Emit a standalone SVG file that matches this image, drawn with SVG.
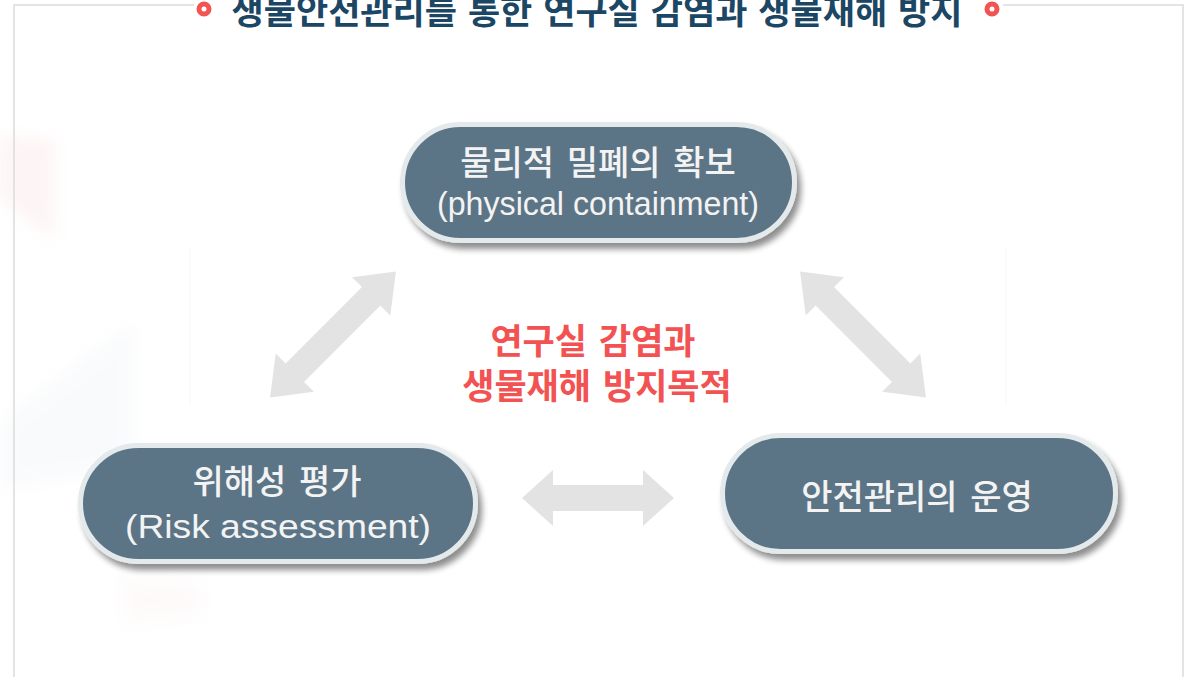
<svg xmlns="http://www.w3.org/2000/svg" width="1184" height="677" viewBox="0 0 1184 677">
  <style>
    .frame { fill: none; stroke: #dcdcdc; stroke-width: 1.5; }
    .ring { fill: #ffffff; stroke: #f25454; stroke-width: 5; }
    .title { font-family: "Noto Sans CJK KR", sans-serif; font-weight: 700; font-size: 35px; fill: #1b4664; text-anchor: middle; word-spacing: 3px; }
    .pill { fill: #5b7586; stroke: #e4e9ec; stroke-width: 5; }
    .ko { font-family: "Noto Sans CJK KR", sans-serif; font-weight: 500; font-size: 34px; fill: #f3f3f3; text-anchor: middle; word-spacing: 5px; }
    .en { font-family: "Liberation Sans", "Noto Sans CJK KR", sans-serif; font-size: 34px; fill: #f3f3f3; text-anchor: middle; }
    .center { font-family: "Noto Sans CJK KR", sans-serif; font-weight: 700; font-size: 35px; fill: #f25252; text-anchor: middle; word-spacing: 4px; }
    .arrow { fill: #e3e3e3; }
  </style>
  <defs>
    <filter id="shadow" x="-10%" y="-20%" width="125%" height="150%">
      <feGaussianBlur in="SourceAlpha" stdDeviation="3"/>
      <feOffset dx="4" dy="6" result="o"/>
      <feComponentTransfer><feFuncA type="linear" slope="0.45"/></feComponentTransfer>
      <feMerge><feMergeNode/><feMergeNode in="SourceGraphic"/></feMerge>
    </filter>
    <filter id="soft" x="-50%" y="-50%" width="200%" height="200%">
      <feGaussianBlur stdDeviation="8"/>
    </filter>
    <polygon id="dblDiag" points="-89,0 -54,-27 -54,-13 54,-13 54,-27 89,0 54,27 54,13 -54,13 -54,27"/>
    <polygon id="dblHorz" points="-76,0 -45,-28 -45,-13 45,-13 45,-28 76,0 45,28 45,13 -45,13 -45,28"/>
  </defs>

  <rect width="1184" height="677" fill="#ffffff"/>

  <!-- faint background decoration -->
  <g id="background">
    <polygon points="0,135 55,140 55,240 0,200" fill="#f5c8c8" opacity="0.18" filter="url(#soft)"/>
    <polygon points="0,420 135,320 135,470 0,490" fill="#e6eaf0" opacity="0.2" filter="url(#soft)"/>
    <polygon points="120,575 200,585 205,615 125,625" fill="#f6dede" opacity="0.15" filter="url(#soft)"/>
    <line x1="190" y1="248" x2="190" y2="404" stroke="#f6f6f6" stroke-width="1"/>
    <line x1="1006" y1="248" x2="1006" y2="404" stroke="#f6f6f6" stroke-width="1"/>
  </g>

  <g id="frame">
    <path class="frame" d="M194,5 H14 V677 M1003,5 H1183 V677"/>
  </g>

  <g id="title">
    <circle class="ring" cx="204" cy="9" r="5"/>
    <circle class="ring" cx="992" cy="9" r="5"/>
    <text class="title" x="597" y="24">생물안전관리를 통한 연구실 감염과 생물재해 방지</text>
  </g>

  <g id="connectors">
    <use href="#dblDiag" class="arrow" transform="translate(333,334.5) rotate(-45)"/>
    <use href="#dblDiag" class="arrow" transform="translate(863,334.5) rotate(45)"/>
    <use href="#dblHorz" class="arrow" transform="translate(598,498)"/>
  </g>

  <g id="node-physical">
    <rect class="pill" x="402.5" y="124.5" width="392" height="116" rx="58" filter="url(#shadow)"/>
    <text class="ko" x="598" y="175">물리적 밀폐의 확보</text>
    <text class="en" x="598" y="215" textLength="322" lengthAdjust="spacingAndGlyphs">(physical containment)</text>
  </g>

  <g id="node-risk">
    <rect class="pill" x="80.5" y="445.5" width="395" height="116" rx="58" filter="url(#shadow)"/>
    <text class="ko" x="277" y="494">위해성 평가</text>
    <text class="en" x="278" y="538" textLength="306" lengthAdjust="spacingAndGlyphs">(Risk assessment)</text>
  </g>

  <g id="node-operation">
    <rect class="pill" x="722.5" y="435.5" width="393" height="116" rx="58" filter="url(#shadow)"/>
    <text class="ko" x="917" y="509">안전관리의 운영</text>
  </g>

  <g id="center-label">
    <text class="center" x="593" y="354">연구실 감염과</text>
    <text class="center" x="597" y="399">생물재해 방지목적</text>
  </g>
</svg>
